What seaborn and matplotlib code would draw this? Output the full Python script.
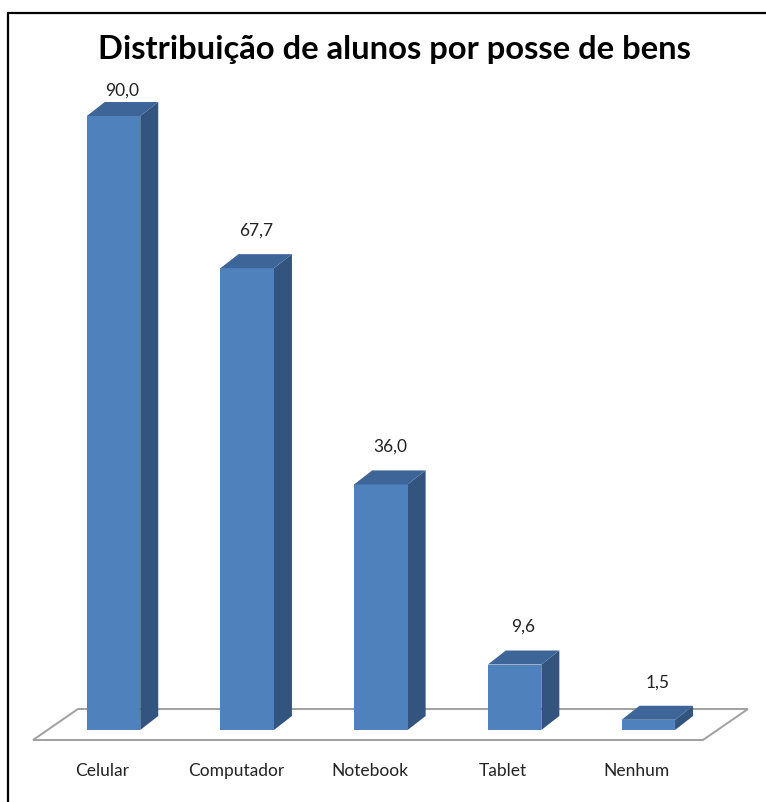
import numpy as np
import pandas as pd
import matplotlib
matplotlib.use("Agg")
import matplotlib.pyplot as plt
from matplotlib.patches import Polygon
from matplotlib.lines import Line2D
import seaborn as sns

# ---- data ----
categories = ["Celular", "Computador", "Notebook", "Tablet", "Nenhum"]
values = [90.0, 67.7, 36.0, 9.6, 1.5]
value_labels = ["90,0", "67,7", "36,0", "9,6", "1,5"]
title = "Distribuição de alunos por posse de bens"

sns.set_theme(style="white")
plt.rcParams["font.family"] = ["Lato", "DejaVu Sans"]

W, H = 766, 803
fig = plt.figure(figsize=(W / 100, H / 100), dpi=100)
ax = fig.add_axes([0, 0, 1, 1])

df = pd.DataFrame({"cat": categories, "val": values})
front = "#4F81BD"
side = "#33547F"
top = "#3D6597"
bw = 0.4
sns.barplot(data=df, x="cat", y="val", color=front, width=bw, saturation=1,
            edgecolor="none", ax=ax, zorder=3)

# axis mapping (pixel-based layout)
px_per_cat = 133.7
px_per_unit = 6.822
x0_px, base_px = 113.5, 731
ax.set_xlim(-x0_px / px_per_cat, (W - x0_px) / px_per_cat)
ax.set_ylim(-(H - base_px) / px_per_unit, base_px / px_per_unit)
ax.axis("off")

dx = 18 / px_per_cat
dy = 14 / px_per_unit

# floor
n = len(categories)
fdx, fdy = 0.336, 4.544
fy = -1.466
floor = Polygon([(-0.602, fy), (n - 0.591, fy), (n - 0.591 + fdx, fy + fdy),
                 (-0.602 + fdx, fy + fdy)], closed=True, facecolor="white",
                edgecolor="#A0A0A0", lw=1.4, zorder=1)
ax.add_patch(floor)

for i, v in enumerate(values):
    xa, xb = i - bw / 2, i + bw / 2
    ax.add_patch(Polygon([(xb, 0), (xb + dx, dy), (xb + dx, v + dy), (xb, v)],
                         closed=True, facecolor=side, edgecolor="none", zorder=2))
    ax.add_patch(Polygon([(xa, v), (xb, v), (xb + dx, v + dy), (xa + dx, v + dy)],
                         closed=True, facecolor=top, edgecolor="none", zorder=4))
    ly = min(v + dy + 3.6, 93.9)
    ax.text(i + dx / 2, ly, value_labels[i], ha="center", va="center",
            fontsize=12.5, color="#222222", zorder=5)
    ax.text(i - 0.085, -5.8, categories[i], ha="center", va="center",
            fontsize=12.5, color="#222222", zorder=5)

fig.text(394 / W, 1 - 49 / H, title, ha="center", va="center",
         fontsize=23.6, fontweight="bold", color="black")

# outer border (left and top)
bx, by = 7.5 / W, 1 - 13.5 / H
fig.add_artist(Line2D([bx, bx], [0, by], color="black", lw=1.6))
fig.add_artist(Line2D([bx, 1], [by, by], color="black", lw=1.6))

fig.savefig("out.png", dpi=100, facecolor="white")
